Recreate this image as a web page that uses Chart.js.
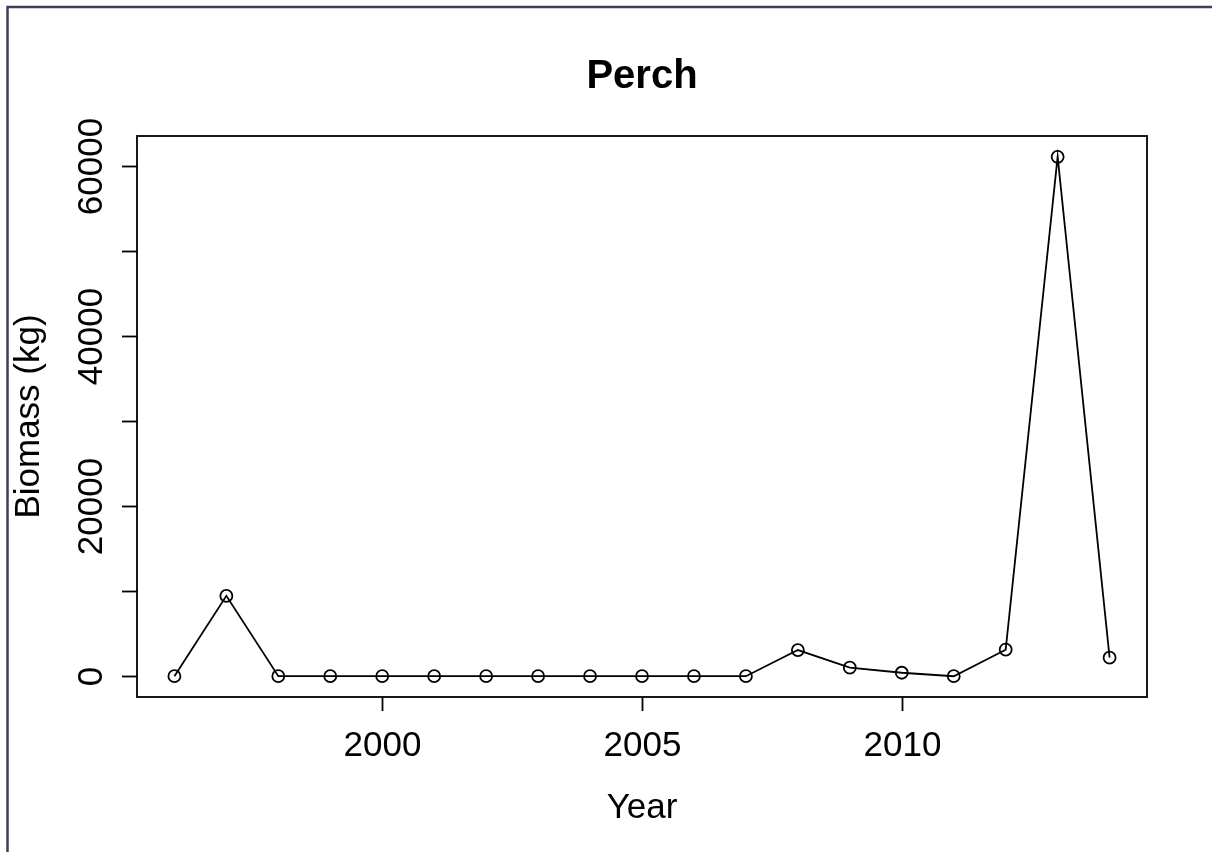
<!DOCTYPE html>
<html>
<head>
<meta charset="utf-8">
<script src="https://cdn.jsdelivr.net/npm/chart.js@4/dist/chart.umd.min.js"></script>
<style>
  html, body { margin: 0; padding: 0; background: #ffffff; }
  #wrap { width: 1212px; height: 852px; position: relative; }
  canvas { display: block; }
</style>
</head>
<body>
<div id="wrap"><canvas id="c" width="1212" height="852"></canvas></div>
<script>
// Perch biomass by survey year
const years = [1996, 1997, 1998, 1999, 2000, 2001, 2002, 2003, 2004, 2005,
               2006, 2007, 2008, 2009, 2010, 2011, 2012, 2013, 2014];
const biomassKg = [0, 9450, 0, 0, 0, 0, 0, 0, 0, 0,
                   0, 0, 3080, 1000, 410, 0, 3120, 61100, 2180];
const xTicks = [2000, 2005, 2010];
const yTicks = [0, 10000, 20000, 30000, 40000, 50000, 60000];
const yTickLabels = ['0', '', '20000', '', '40000', '', '60000'];
const titleText = 'Perch';
const xLabel = 'Year';
const yLabel = 'Biomass (kg)';

// axis ranges padded by 4% on each side
const xMinData = Math.min(...years), xMaxData = Math.max(...years);
const yMinData = Math.min(...biomassKg), yMaxData = Math.max(...biomassKg);
const xPad = (xMaxData - xMinData) * 0.04;
const yPad = (yMaxData - yMinData) * 0.04;

const FONT = '"Liberation Sans", Arial, Helvetica, sans-serif';

// frame, ticks, labels and titles drawn against the chart's own scales
const frameAxes = {
  id: 'frameAxes',
  afterDraw(chart) {
    const ctx = chart.ctx;
    const a = chart.chartArea;
    const xs = chart.scales.x, ys = chart.scales.y;
    ctx.save();

    // outer page edge
    ctx.strokeStyle = '#463a5f';
    ctx.lineWidth = 2.5;
    ctx.beginPath();
    ctx.moveTo(1212, 7);
    ctx.lineTo(7.5, 7);
    ctx.lineTo(7.5, 852);
    ctx.stroke();

    // plot box
    ctx.strokeStyle = '#000';
    ctx.lineWidth = 1.8;
    ctx.strokeRect(a.left, a.top, a.right - a.left, a.bottom - a.top);

    // x ticks
    ctx.fillStyle = '#000';
    ctx.font = '35px ' + FONT;
    ctx.textAlign = 'center';
    ctx.textBaseline = 'alphabetic';
    xTicks.forEach(v => {
      const px = Math.round(xs.getPixelForValue(v)) + 0.5;
      ctx.beginPath();
      ctx.moveTo(px, a.bottom);
      ctx.lineTo(px, a.bottom + 14);
      ctx.stroke();
      ctx.fillText(String(v), px, 756);
    });

    // y ticks
    yTicks.forEach((v, i) => {
      const py = Math.round(ys.getPixelForValue(v)) + 0.5;
      ctx.beginPath();
      ctx.moveTo(a.left, py);
      ctx.lineTo(a.left - 15, py);
      ctx.stroke();
      if (yTickLabels[i]) {
        ctx.save();
        ctx.translate(102, py);
        ctx.rotate(-Math.PI / 2);
        ctx.textAlign = 'center';
        ctx.textBaseline = 'alphabetic';
        ctx.fillText(yTickLabels[i], 0, 0);
        ctx.restore();
      }
    });

    // axis titles
    ctx.fillText(xLabel, (a.left + a.right) / 2, 818);
    ctx.save();
    ctx.translate(39, (a.top + a.bottom) / 2);
    ctx.rotate(-Math.PI / 2);
    ctx.textAlign = 'center';
    ctx.fillText(yLabel, 0, 0);
    ctx.restore();

    // main title
    ctx.font = 'bold 40px ' + FONT;
    ctx.fillText(titleText, (a.left + a.right) / 2, 88);

    ctx.restore();
  }
};

new Chart(document.getElementById('c'), {
  type: 'line',
  data: {
    datasets: [{
      data: years.map((y, i) => ({ x: y, y: biomassKg[i] })),
      borderColor: '#000',
      borderWidth: 1.8,
      backgroundColor: 'rgba(0,0,0,0)',
      pointStyle: 'circle',
      pointRadius: 6,
      pointBorderWidth: 1.8,
      pointBorderColor: '#000',
      pointBackgroundColor: 'rgba(0,0,0,0)',
      tension: 0,
      fill: false
    }]
  },
  options: {
    responsive: false,
    animation: false,
    devicePixelRatio: 1,
    layout: { padding: { left: 137, top: 136, right: 65, bottom: 155 } },
    plugins: { legend: { display: false }, tooltip: { enabled: false }, title: { display: false } },
    scales: {
      x: { type: 'linear', display: false, min: xMinData - xPad, max: xMaxData + xPad },
      y: { type: 'linear', display: false, min: yMinData - yPad, max: yMaxData + yPad }
    }
  },
  plugins: [frameAxes]
});
</script>
</body>
</html>
